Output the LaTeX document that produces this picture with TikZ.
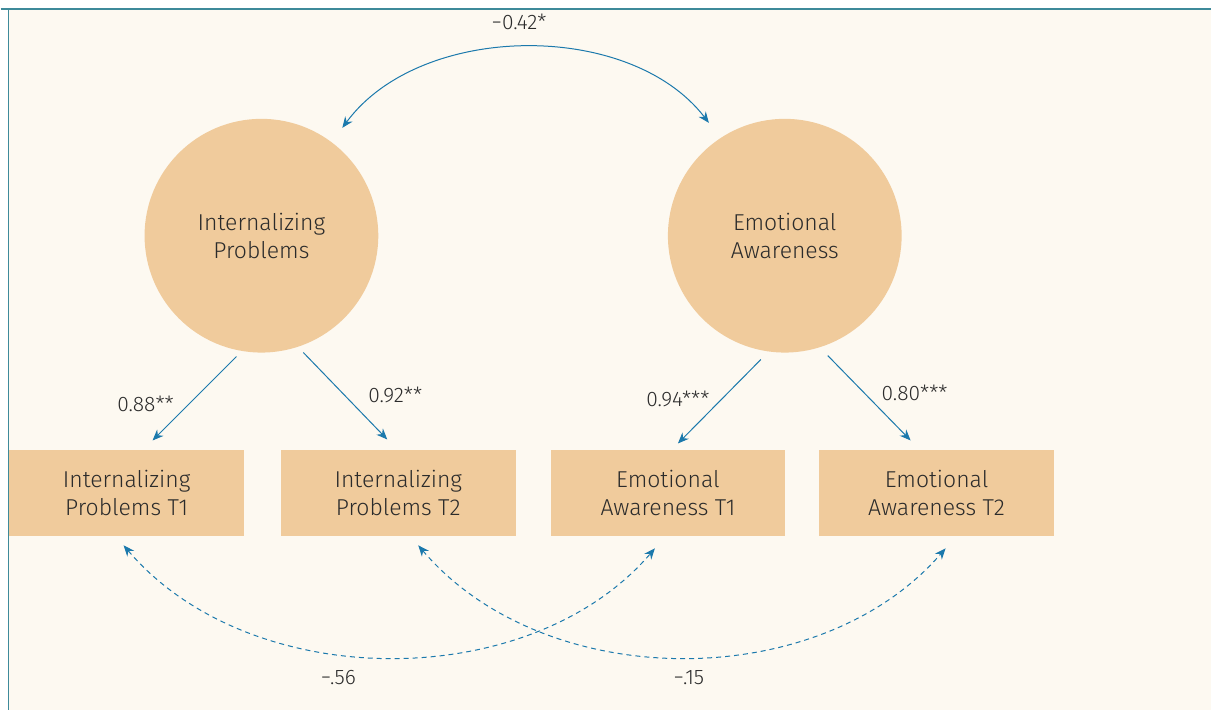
\documentclass[tikz,border=0pt]{standalone}
\usepackage{fontspec}
\setmainfont{Fira Sans Light}
\usetikzlibrary{arrows.meta}
\definecolor{bg}{HTML}{FDF9F1}
\definecolor{fillc}{HTML}{F0CB9C}
\definecolor{arr}{HTML}{1B79AC}
\definecolor{frame}{HTML}{3E8A9A}
\definecolor{txt}{HTML}{2B2B2B}
\tikzset{
  latent/.style={circle, fill=fillc, minimum size=234pt, inner sep=0pt, align=center, font=\fontsize{23}{28}\selectfont, text=txt},
  obs/.style={rectangle, fill=fillc, minimum width=235pt, minimum height=86pt, inner sep=0pt, align=center, font=\fontsize{23}{28}\selectfont, text=txt},
  lab/.style={font=\fontsize{21}{24}\selectfont, text=txt, inner sep=0pt},
  conn/.style={draw=arr, line width=1pt, -{Stealth[length=11pt,width=9pt]}},
  biconn/.style={draw=arr, line width=1pt, {Stealth[length=11pt,width=9pt]}-{Stealth[length=11pt,width=9pt]}},
  dconn/.style={biconn, dashed, dash pattern=on 5pt off 4pt}
}
\begin{document}
\begin{tikzpicture}[x=1pt,y=-1pt]
\fill[white] (0,0) rectangle (1212,711);
\fill[bg] (8,9) rectangle (1212,711);
\draw[frame, line width=1.5pt] (0,9) -- (1212,9);
\draw[frame, line width=1.2pt] (8,9) -- (8,711);
\useasboundingbox (0,0) rectangle (1212,711);

\node[latent] (ip) at (261,236) {Internalizing\\Problems};
\node[latent] (ea) at (785,236) {Emotional\\Awareness};

\node[obs] (o1) at (126,494) {Internalizing\\Problems T1};
\node[obs] (o2) at (398,494) {Internalizing\\Problems T2};
\node[obs] (o3) at (668,494) {Emotional\\Awareness T1};
\node[obs] (o4) at (937,494) {Emotional\\Awareness T2};

% path end points
\coordinate (a1s) at (236,357); \coordinate (a1e) at (152,441);
\coordinate (a2s) at (303,353); \coordinate (a2e) at (387,440);
\coordinate (a3s) at (761,360); \coordinate (a3e) at (678,444);
\coordinate (a4s) at (828,356); \coordinate (a4e) at (911,441);

\draw[conn] (a1s) -- (a1e);
\draw[conn] (a2s) -- (a2e);
\draw[conn] (a3s) -- (a3e);
\draw[conn] (a4s) -- (a4e);

\node[lab] (l1) at (145,404) {0.88**};
\node[lab] (l2) at (395,395) {0.92**};
\node[lab] (l3) at (678,399) {0.94***};
\node[lab] (l4) at (915,393) {0.80***};

\coordinate (t1) at (342,128);
\coordinate (t2) at (709,123);
\draw[biconn] (t1) .. controls (420,22) and (630,20) .. (t2);
\node[lab] (l0) at (519,22) {−0.42*};

\coordinate (d1s) at (123,546); \coordinate (d1e) at (655,549);
\coordinate (d2s) at (418,546); \coordinate (d2e) at (946,549);
\draw[dconn] (d1s) .. controls (250,695) and (530,695) .. (d1e);
\draw[dconn] (d2s) .. controls (545,695) and (820,695) .. (d2e);
\node[lab] (l5) at (338,678) {−.56};
\node[lab] (l6) at (689,678) {−.15};
\end{tikzpicture}
\end{document}
